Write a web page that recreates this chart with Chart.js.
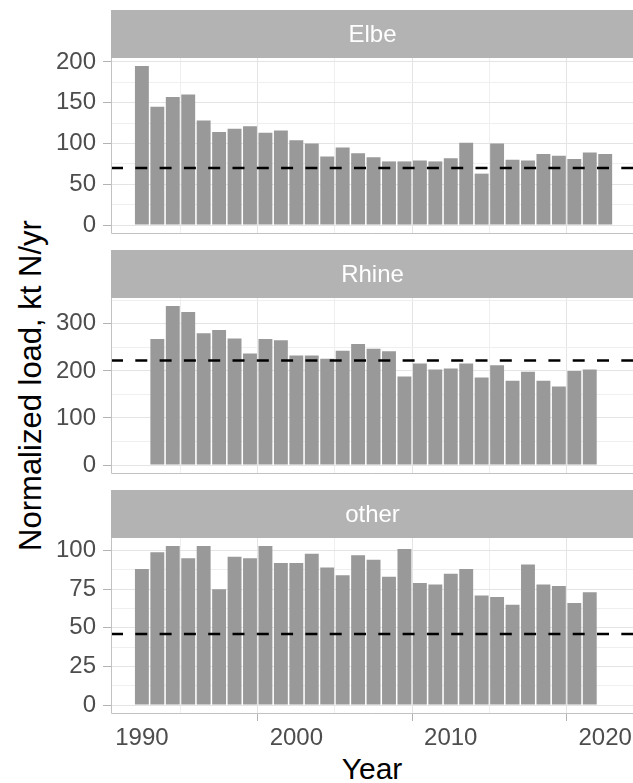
<!DOCTYPE html>
<html>
<head>
<meta charset="utf-8">
<script src="https://cdn.jsdelivr.net/npm/chart.js@4"></script>
<style>
  html, body { margin: 0; padding: 0; background: #fff; }
  body { width: 633px; height: 783px; position: relative; overflow: hidden; font-family: "Liberation Sans", Arial, sans-serif; }
  canvas { position: absolute; left: 0; }
  #ytitle { position: absolute; left: -169.7px; top: 370px; width: 400px; height: 31px; line-height: 31px;
            font-size: 31px; text-align: center; white-space: nowrap; color: #000; transform: rotate(-90deg); transform-origin: 50% 50%; }
  #xtitle { position: absolute; left: 111px; top: 753.5px; width: 522px; height: 30px; line-height: 30px;
            font-size: 30px; text-align: center; white-space: nowrap; color: #000; }
</style>
</head>
<body>
<div id="ytitle">Normalized load, kt N/yr</div>
<div id="xtitle">Year</div>
<canvas id="c1" width="633" height="233" style="top:10px"></canvas>
<canvas id="c2" width="633" height="233" style="top:250px"></canvas>
<canvas id="c3" width="633" height="293" style="top:490px"></canvas>
<script>
// ---- data ----
const panelNames = ["Elbe", "Rhine", "other"];

const elbeYears = [1990,1991,1992,1993,1994,1995,1996,1997,1998,1999,2000,2001,2002,2003,2004,2005,2006,2007,2008,2009,2010,2011,2012,2013,2014,2015,2016,2017,2018,2019,2020];
const elbeLoad  = [195,145,157,160,128,114,118,121,113,116,104,100,84,95,88,83,78,78,79,78,82,101,63,100,80,79,87,85,81,89,87];

const rhineYears = [1991,1992,1993,1994,1995,1996,1997,1998,1999,2000,2001,2002,2003,2004,2005,2006,2007,2008,2009,2010,2011,2012,2013,2014,2015,2016,2017,2018,2019];
const rhineLoad  = [268,338,325,280,287,269,237,268,265,233,233,226,243,257,247,242,188,216,203,205,216,186,212,179,198,179,167,200,203];

const otherYears = [1990,1991,1992,1993,1994,1995,1996,1997,1998,1999,2000,2001,2002,2003,2004,2005,2006,2007,2008,2009,2010,2011,2012,2013,2014,2015,2016,2017,2018,2019];
const otherLoad  = [88,99,103,95,103,75,96,95,103,92,92,98,89,84,97,94,83,101,79,78,85,88,71,70,65,91,78,77,66,73];

const referenceLoad = [70, 222, 46];   // dashed line per panel
const yMajorStep = [50, 100, 25];      // labelled y ticks per panel
const xTickLabels = ["1990", "2000", "2010", "2020"];

// ---- styling / layout ----
const FONT = '"Liberation Sans", Arial, sans-serif';
const X_MIN = 1988.0, X_MAX = 2021.8;
const STRIP_H = 48, PLOT_H = 175, AXIS_W = 111;
const BAR = '#999999', STRIP = '#B3B3B3', BORDER = '#C2C2C2';
const GRID_MAJ = '#E4E4E4', GRID_MIN = '#EFEFEF', TICK = '#B3B3B3', TXT = '#4D4D4D';

Chart.defaults.font.family = FONT;

const panelPlugin = {
  id: 'panelDecor',
  beforeDraw(chart, args, opts) {
    const ctx = chart.ctx, a = chart.chartArea;
    ctx.save();
    ctx.fillStyle = STRIP;
    ctx.fillRect(a.left, 0, chart.width - a.left, STRIP_H);
    ctx.fillStyle = '#FFFFFF';
    ctx.font = '24px ' + FONT;
    ctx.textAlign = 'center';
    ctx.textBaseline = 'alphabetic';
    ctx.fillText(opts.title, (a.left + chart.width) / 2 + 0.5, 32.3);
    ctx.restore();
  },
  afterDatasetsDraw(chart) {
    const ctx = chart.ctx, a = chart.chartArea;
    ctx.save();
    ctx.strokeStyle = BORDER;
    ctx.lineWidth = 1;
    ctx.beginPath();
    ctx.moveTo(a.left + 0.5, a.top);
    ctx.lineTo(a.left + 0.5, a.bottom + 0.5);
    ctx.lineTo(chart.width, a.bottom + 0.5);
    ctx.stroke();
    ctx.restore();
  }
};

function zeroPad(s) { s.paddingTop = 0; s.paddingBottom = 0; s.paddingLeft = 0; s.paddingRight = 0; }

function makePanel(id, idx, years, values, isBottom) {
  const canvas = document.getElementById(id);
  const vmax = Math.max(...values);
  const yMin = -0.05 * vmax, yMax = 1.05 * vmax;
  const major = yMajorStep[idx];
  const isMajorY = v => Math.abs(v / major - Math.round(v / major)) < 1e-6;
  const isMajorX = v => xTickLabels.includes(String(v));
  const tv = c => (c && c.tick) ? c.tick.value : NaN;
  const xAxisH = canvas.height - STRIP_H - PLOT_H;

  return new Chart(canvas, {
    type: 'bar',
    data: {
      datasets: [
        {
          type: 'line',
          data: [{x: X_MIN, y: referenceLoad[idx]}, {x: X_MAX, y: referenceLoad[idx]}],
          borderColor: '#000000',
          borderWidth: 2.6,
          borderDash: [12, 12.3],
          pointRadius: 0,
          fill: false,
          order: 0
        },
        {
          type: 'bar',
          data: years.map((y, i) => ({x: y, y: values[i]})),
          backgroundColor: BAR,
          borderWidth: 0,
          barPercentage: 0.9,
          categoryPercentage: 1.0,
          order: 1
        }
      ]
    },
    options: {
      responsive: false,
      animation: false,
      events: [],
      devicePixelRatio: 1,
      layout: { padding: { top: STRIP_H, left: 0, right: 0, bottom: 0 } },
      plugins: { legend: { display: false }, tooltip: { enabled: false }, panelDecor: { title: panelNames[idx] } },
      scales: {
        x: {
          type: 'linear',
          min: X_MIN, max: X_MAX,
          offset: false,
          border: { display: false },
          grid: {
            color: c => isMajorX(tv(c)) ? GRID_MAJ : GRID_MIN,
            lineWidth: 1,
            drawTicks: isBottom,
            tickLength: 8,
            tickColor: c => isMajorX(tv(c)) ? TICK : 'rgba(0,0,0,0)'
          },
          ticks: {
            display: isBottom,
            stepSize: 5,
            includeBounds: false,
            autoSkip: false,
            maxRotation: 0,
            padding: 3,
            color: TXT,
            font: { size: 24 },
            callback: v => isMajorX(v) ? String(v) : ''
          },
          afterFit: s => { s.height = xAxisH; zeroPad(s); }
        },
        y: {
          type: 'linear',
          min: yMin, max: yMax,
          border: { display: false },
          grid: {
            color: c => isMajorY(tv(c)) ? GRID_MAJ : GRID_MIN,
            lineWidth: 1,
            drawTicks: true,
            tickLength: 8,
            tickColor: c => isMajorY(tv(c)) ? TICK : 'rgba(0,0,0,0)'
          },
          ticks: {
            stepSize: major / 2,
            includeBounds: false,
            autoSkip: false,
            padding: 7,
            color: TXT,
            font: { size: 24 },
            callback: v => isMajorY(v) ? String(v) : ''
          },
          afterFit: s => { s.width = AXIS_W; zeroPad(s); }
        }
      }
    },
    plugins: [panelPlugin]
  });
}

makePanel('c1', 0, elbeYears, elbeLoad, false);
makePanel('c2', 1, rhineYears, rhineLoad, false);
makePanel('c3', 2, otherYears, otherLoad, true);
</script>
</body>
</html>
